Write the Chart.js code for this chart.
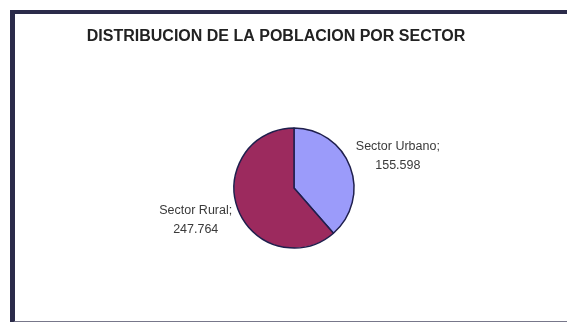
<!DOCTYPE html>
<html>
<head>
<meta charset="utf-8">
<script src="https://cdn.jsdelivr.net/npm/chart.js@4"></script>
<style>
  html, body { margin: 0; padding: 0; background: #fff; }
  #wrap { position: relative; width: 567px; height: 322px; overflow: hidden; }
  #frame {
    position: absolute; left: 10px; top: 10px; width: 580px; height: 307px;
    border-top: 4px solid #2b2b4a; border-left: 5px solid #2b2b4a;
    border-bottom: 3px solid #77778a;
  }
  #pieChart { position: absolute; left: 0; top: 0; }
</style>
</head>
<body>
<div id="wrap">
  <div id="frame"></div>
  <canvas id="pieChart" width="567" height="322"></canvas>
</div>
<script>
const titulo = 'DISTRIBUCION DE LA POBLACION POR SECTOR';
const sectores = ['Sector Urbano', 'Sector Rural'];
const poblacion = [155598, 247764];
const etiquetas = ['155.598', '247.764'];
const colores = ['#9b9bfa', '#9c2a5e'];

const fuente = '"Liberation Sans", Arial, sans-serif';

// titulo arriba y etiquetas de cada sector al lado del pastel
const etiquetasPlugin = {
    id: 'etiquetas',
    afterDatasetsDraw(chart) {
        const c = chart.ctx;
        c.save();
        c.textAlign = 'center';
        c.textBaseline = 'middle';

        c.font = 'bold 16px ' + fuente;
        c.fillStyle = '#222';
        c.fillText(titulo, 276, 37);

        const meta = chart.getDatasetMeta(0);
        c.font = '12.5px ' + fuente;
        c.fillStyle = '#3a3a3a';
        meta.data.forEach((arc, i) => {
            const mid = (arc.startAngle + arc.endAngle) / 2;
            const ax = arc.x + Math.cos(mid) * (arc.outerRadius + 6);
            const ay = arc.y + Math.sin(mid) * (arc.outerRadius + 30);
            const lineas = [sectores[i] + ';', etiquetas[i]];
            const w = Math.max(...lineas.map(t => c.measureText(t).width));
            const cx = Math.cos(mid) >= 0 ? ax + w / 2 : ax - w / 2;
            lineas.forEach((t, k) => c.fillText(t, cx, ay - 9.5 + k * 19));
        });
        c.restore();
    }
};

new Chart(document.getElementById('pieChart').getContext('2d'), {
    type: 'pie',
    data: {
        labels: sectores,
        datasets: [{
            data: poblacion,
            backgroundColor: colores,
            borderColor: '#1f1f4d',
            borderWidth: 1.5,
            radius: 60
        }]
    },
    options: {
        responsive: false,
        animation: false,
        layout: { padding: { left: 21, right: 0, top: 54, bottom: 0 } },
        plugins: {
            legend: { display: false },
            tooltip: { enabled: false },
            title: { display: false }
        }
    },
    plugins: [etiquetasPlugin]
});
</script>
</body>
</html>
